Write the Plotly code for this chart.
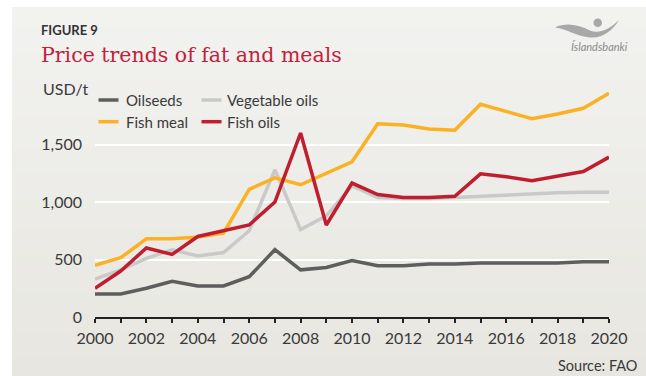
import plotly.graph_objects as go

# ---- data (USD per tonne) ----
years = list(range(2000, 2021))
oilseeds = [200, 200, 250, 310, 270, 270, 350, 585, 410, 430, 490,
            445, 445, 460, 460, 470, 470, 470, 470, 480, 480]
vegetable_oils = [330, 410, 510, 585, 530, 560, 750, 1280, 760, 880, 1140,
                  1040, 1030, 1030, 1040, 1050, 1065, 1075, 1080, 1085, 1085]
fish_meal = [450, 515, 680, 680, 695, 730, 1110, 1210, 1150, 1250, 1350,
             1680, 1670, 1635, 1625, 1850, 1785, 1725, 1765, 1815, 1945]
fish_oils = [250, 400, 600, 545, 700, 750, 800, 1000, 1600, 800, 1165,
             1065, 1040, 1040, 1050, 1245, 1220, 1185, 1225, 1265, 1390]

series_names = ["Oilseeds", "Vegetable oils", "Fish meal", "Fish oils"]
series_values = [oilseeds, vegetable_oils, fish_meal, fish_oils]
series_colors = ["#5e5e5e", "#c9c9c9", "#fbb124", "#be1e2d"]

y_tick_vals = [0, 500, 1000, 1500, 2000]
y_tick_text = ["0", "500", "1,000", "1,500", ""]
x_tick_text = [str(y) if y % 2 == 0 else "" for y in years]

# ---- page geometry (pixels) ----
W, H = 646, 376
L, R, T, B = 95, 37, 87, 59
PW, PH = W - L - R, H - T - B


def px(x):
    return (x - L) / PW


def py(y):
    return (H - B - y) / PH


FONT = "Lato, 'Open Sans', sans-serif"

fig = go.Figure()
for name, vals, col in zip(series_names, series_values, series_colors):
    fig.add_trace(go.Scatter(
        x=years, y=vals, name=name, mode="lines",
        line=dict(color=col, width=3.5), showlegend=False,
        hoverinfo="x+y+name",
    ))

shapes = []

# panel background with a soft vertical gradient
top_rgb = (242, 242, 240)
bot_rgb = (231, 230, 224)
y0, y1 = 7, H
n = 40
for i in range(n):
    a = y0 + (y1 - y0) * i / n
    b = y0 + (y1 - y0) * (i + 1) / n + 0.6
    t = (i + 0.5) / n
    c = tuple(round(top_rgb[k] + (bot_rgb[k] - top_rgb[k]) * t) for k in range(3))
    shapes.append(dict(
        type="rect", xref="paper", yref="paper", layer="below",
        x0=px(12), x1=px(W + 2), y0=py(min(b, H)), y1=py(a),
        fillcolor="rgb(%d,%d,%d)" % c, line=dict(width=0),
    ))

# bank logo: swoosh and dot
swoosh_pts = [
    ("M", [(555, 27.5)]),
    ("C", [(566, 22), (579, 25), (590, 30.5)]),
    ("C", [(600, 34.5), (611, 28), (619, 20)]),
    ("C", [(613, 30), (603, 38.5), (590, 37.5)]),
    ("C", [(577, 36.5), (567, 29), (555, 27.5)]),
]
path = ""
for cmd, pts in swoosh_pts:
    path += cmd + " " + " ".join("%.5f,%.5f" % (px(a), py(b)) for a, b in pts) + " "
path += "Z"
shapes.append(dict(type="path", xref="paper", yref="paper", path=path,
                   fillcolor="#a8a8a8", line=dict(width=0)))
shapes.append(dict(type="circle", xref="paper", yref="paper",
                   x0=px(593.5), x1=px(602), y0=py(27), y1=py(18.5),
                   fillcolor="#a8a8a8", line=dict(width=0)))

annotations = []

# legend (two rows, two columns)
leg_sample_x = [98.5, 201.5]
leg_text_x = [124, 225]
leg_row_y = [100, 121.7]
for i, (name, col) in enumerate(zip(series_names, series_colors)):
    r, c = divmod(i, 2)
    yy = py(leg_row_y[r])
    shapes.append(dict(type="line", xref="paper", yref="paper",
                       x0=px(leg_sample_x[c]), x1=px(leg_sample_x[c] + 20),
                       y0=yy, y1=yy, line=dict(color=col, width=3.5)))
    annotations.append(dict(xref="paper", yref="paper", x=px(leg_text_x[c]), y=yy,
                            text=name, showarrow=False, xanchor="left", yanchor="middle",
                            font=dict(family=FONT, size=15, color="#3a3a3a")))

annotations += [
    dict(xref="paper", yref="paper", x=px(39), y=py(30.5), text="<b>FIGURE 9</b>",
         showarrow=False, xanchor="left", yanchor="middle",
         font=dict(family=FONT, size=13, color="#333333")),
    dict(xref="paper", yref="paper", x=px(39), y=py(55), text="Price trends of fat and meals",
         showarrow=False, xanchor="left", yanchor="middle",
         font=dict(family="'DejaVu Serif', serif", size=20.5, color="#c41e3a")),
    dict(xref="paper", yref="paper", x=px(599), y=py(46.5), text="Íslandsbanki",
         showarrow=False, xanchor="center", yanchor="middle",
         font=dict(family=FONT, size=11, color="#8c8c8c", style="italic")),
    dict(xref="paper", yref="paper", x=px(40.5), y=py(88.5), text="USD/t",
         showarrow=False, xanchor="left", yanchor="middle",
         font=dict(family=FONT, size=16, color="#3a3a3a")),
    dict(xref="paper", yref="paper", x=px(639), y=py(365), text="Source: FAO",
         showarrow=False, xanchor="right", yanchor="middle",
         font=dict(family=FONT, size=14.5, color="#3a3a3a")),
]

fig.update_layout(
    width=W, height=H,
    margin=dict(l=L, r=R, t=T, b=B, pad=0),
    paper_bgcolor="white",
    plot_bgcolor="rgba(0,0,0,0)",
    shapes=shapes,
    annotations=annotations,
    showlegend=False,
    font=dict(family=FONT, size=16, color="#3a3a3a"),
    xaxis=dict(
        range=[2000, 2020], tickmode="array", tickvals=years, ticktext=x_tick_text,
        ticks="outside", ticklen=4, tickwidth=1.5, tickcolor="#222222",
        showline=True, linecolor="#222222", linewidth=2,
        showgrid=False, zeroline=False, fixedrange=True, ticklabelstandoff=2,
        tickfont=dict(family=FONT, size=16, color="#3a3a3a"),
    ),
    yaxis=dict(
        range=[0, 2000], tickmode="array", tickvals=y_tick_vals, ticktext=y_tick_text,
        ticks="", showline=False, showgrid=True, gridcolor="white", gridwidth=1.5,
        zeroline=False, fixedrange=True, ticklabelstandoff=12,
        tickfont=dict(family=FONT, size=16, color="#3a3a3a"),
    ),
)

fig.write_html("out.html", config={"displayModeBar": False})
